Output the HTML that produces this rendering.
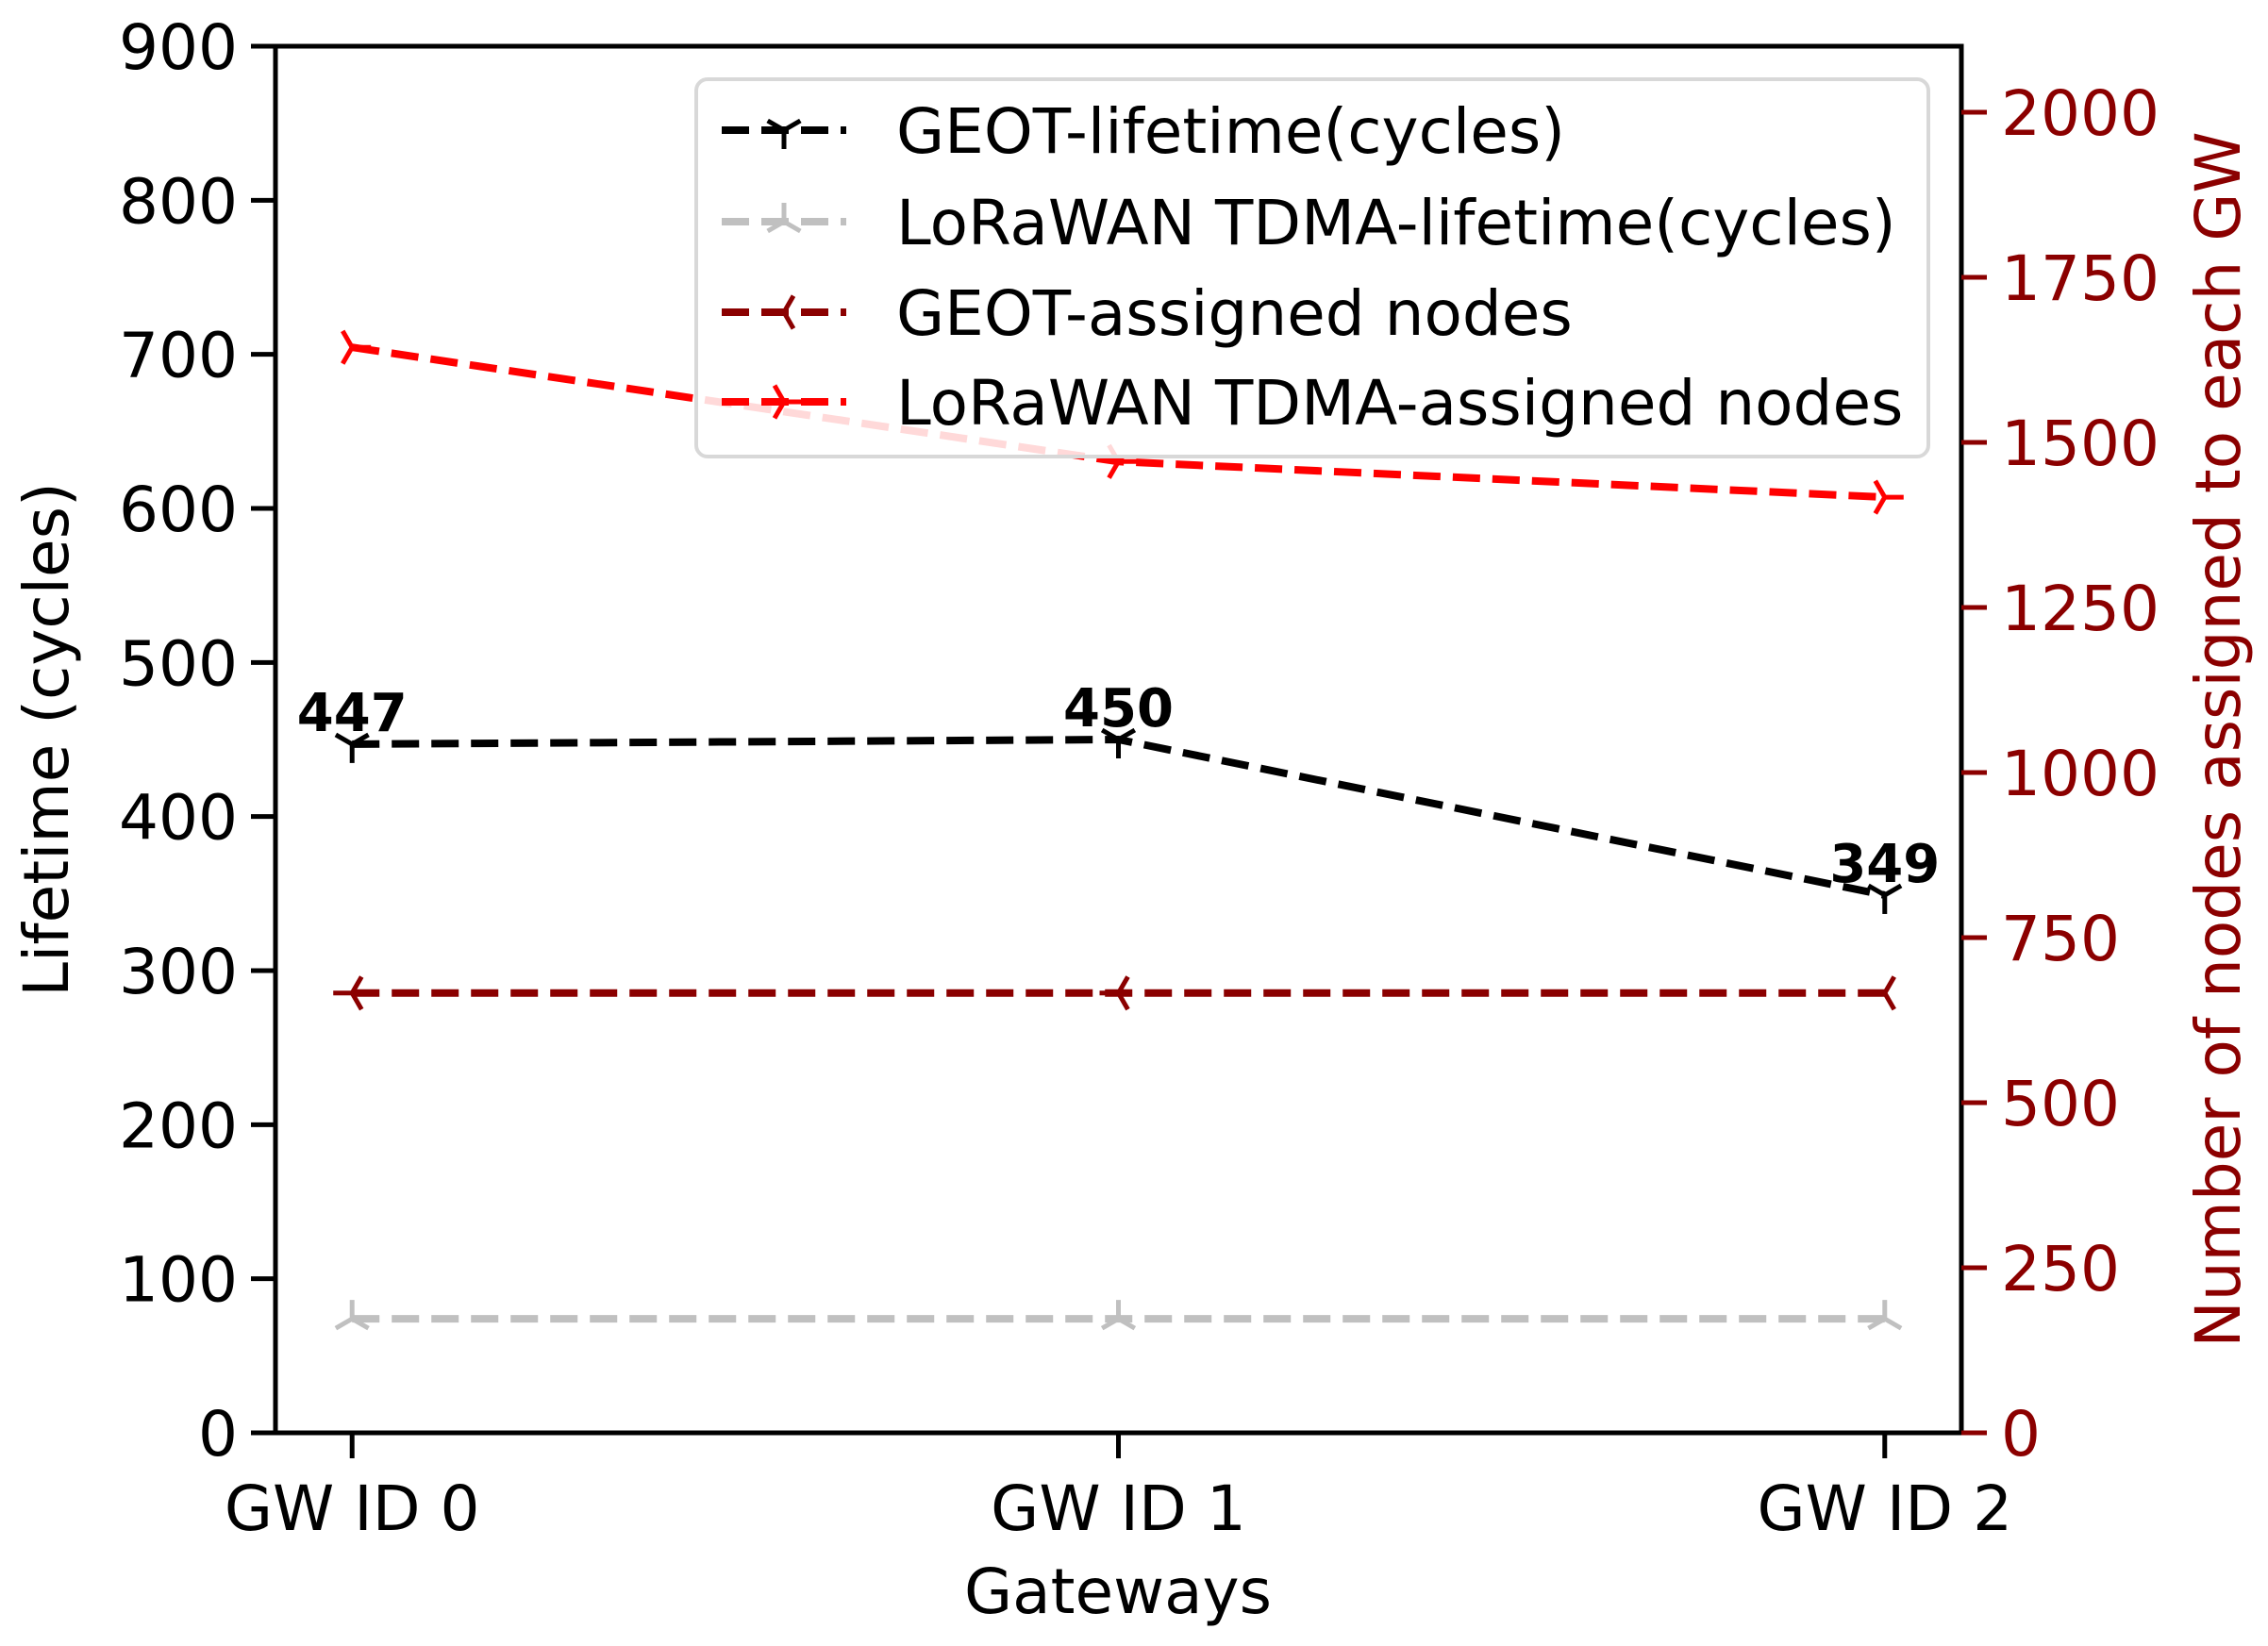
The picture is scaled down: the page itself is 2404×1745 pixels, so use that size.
<!DOCTYPE html>
<html><head><meta charset="utf-8"><style>
html,body{margin:0;padding:0;background:#fff}
svg{display:block;font-family:"DejaVu Sans","Liberation Sans",sans-serif}
</style></head><body>
<svg id="chart" width="2404" height="1745" viewBox="0 0 2404 1745" xmlns="http://www.w3.org/2000/svg">
<rect width="2404" height="1745" fill="#fff"/>
<g id="marks"></g>
<g id="axes"></g>
</svg>
<script>
const categories = ["GW ID 0","GW ID 1","GW ID 2"];
const geotLifetime = [447,450,349];
const loraLifetime = [74,74,74];
const geotNodes = [666,666,666];
const loraNodes = [1644,1471,1417];
const leftTicks = [0,100,200,300,400,500,600,700,800,900];
const rightTicks = [0,250,500,750,1000,1250,1500,1750,2000];

const NS="http://www.w3.org/2000/svg";
const L=292,R=2079,T=49,B=1519;
const FS=66;
const xS=i=>L+(i+0.1)/2.2*(R-L);
const yL=v=>B-v/900*(B-T);
const yR=v=>B-v*0.7;
function mk(tag,attrs,parent,text){const e=document.createElementNS(NS,tag);for(const k in attrs)e.setAttribute(k,attrs[k]);if(text!==undefined)e.textContent=text;parent.appendChild(e);return e;}
const marks=document.getElementById('marks'),axes=document.getElementById('axes');
const DARK="#8b0000";
function tri(g,x,y,rot,color){const s=20;for(let a=0;a<3;a++){const ang=(rot+a*120)*Math.PI/180;mk('line',{x1:x,y1:y,x2:x+s*Math.cos(ang),y2:y+s*Math.sin(ang),stroke:color,'stroke-width':5},g);}}
function series(vals,yf,color,rot,name){
  const g=mk('g',{},marks);
  
  
  const pts=vals.map((v,i)=>xS(i)+','+yf(v)).join(' ');
  mk('polyline',{points:pts,fill:'none',stroke:color,'stroke-width':8,'stroke-dasharray':'29,13'},g);
  vals.forEach((v,i)=>tri(g,xS(i),yf(v),rot,color));
}
series(loraLifetime,yL,"#c0c0c0",-90,"lorawan-lifetime-line");
series(geotNodes,yR,DARK,180,"geot-nodes-line");
series(loraNodes,yR,"#ff0000",0,"lorawan-nodes-line");
series(geotLifetime,yL,"#000",90,"geot-lifetime-line");
geotLifetime.forEach((v,i)=>{
  const t=mk('text',{x:xS(i),y:yL(v)-14,'text-anchor':'middle','font-size':56,'font-weight':'bold',fill:'#000'},marks,String(v));
  
  
});
mk('rect',{x:L,y:T,width:R-L,height:B-T,fill:'none',stroke:'#000','stroke-width':5},axes);
leftTicks.forEach(v=>{
  mk('line',{x1:L-26,x2:L,y1:yL(v),y2:yL(v),stroke:'#000','stroke-width':5},axes);
  const t=mk('text',{x:L-40,y:yL(v)+24,'text-anchor':'end','font-size':FS,fill:'#000'},axes,String(v));
  
  
});
rightTicks.forEach(v=>{
  mk('line',{x1:R,x2:R+27,y1:yR(v),y2:yR(v),stroke:DARK,'stroke-width':5},axes);
  const t=mk('text',{x:R+42,y:yR(v)+24,'font-size':FS,fill:DARK},axes,String(v));
  
  
});
categories.forEach((c,i)=>{
  mk('line',{x1:xS(i),x2:xS(i),y1:B,y2:B+27,stroke:'#000','stroke-width':5},axes);
  const t=mk('text',{x:xS(i),y:1622,'text-anchor':'middle','font-size':FS,fill:'#000'},axes,c);
  
  
});
let t;
t=mk('text',{x:1185,y:1710,'text-anchor':'middle','font-size':FS,fill:'#000'},axes,'Gateways');


t=mk('text',{x:0,y:0,transform:'translate(72,784) rotate(-90)','text-anchor':'middle','font-size':FS,fill:'#000'},axes,'Lifetime (cycles)');


t=mk('text',{x:0,y:0,transform:'translate(2374,784) rotate(-90)','text-anchor':'middle','font-size':FS,fill:DARK},axes,'Number of nodes assigned to each GW');


const lg=mk('g',{},axes);


mk('rect',{x:738,y:84,width:1306,height:400,rx:12,fill:'rgba(255,255,255,0.85)',stroke:'#d8d8d8','stroke-width':4},lg);
const legItems=[["GEOT-lifetime(cycles)","#000",90],["LoRaWAN TDMA-lifetime(cycles)","#c0c0c0",-90],["GEOT-assigned nodes",DARK,180],["LoRaWAN TDMA-assigned nodes","#ff0000",0]];
const legY=[138,235,331,426];
legItems.forEach((it,k)=>{
  const g=mk('g',{},lg);
  
  
  mk('line',{x1:765,x2:897,y1:legY[k],y2:legY[k],stroke:it[1],'stroke-width':8,'stroke-dasharray':'29,13'},g);
  tri(g,831,legY[k],it[2],it[1]);
  mk('text',{x:950,y:legY[k]+24,'font-size':FS,fill:'#000'},g,it[0]);
});
</script>
</body></html>
